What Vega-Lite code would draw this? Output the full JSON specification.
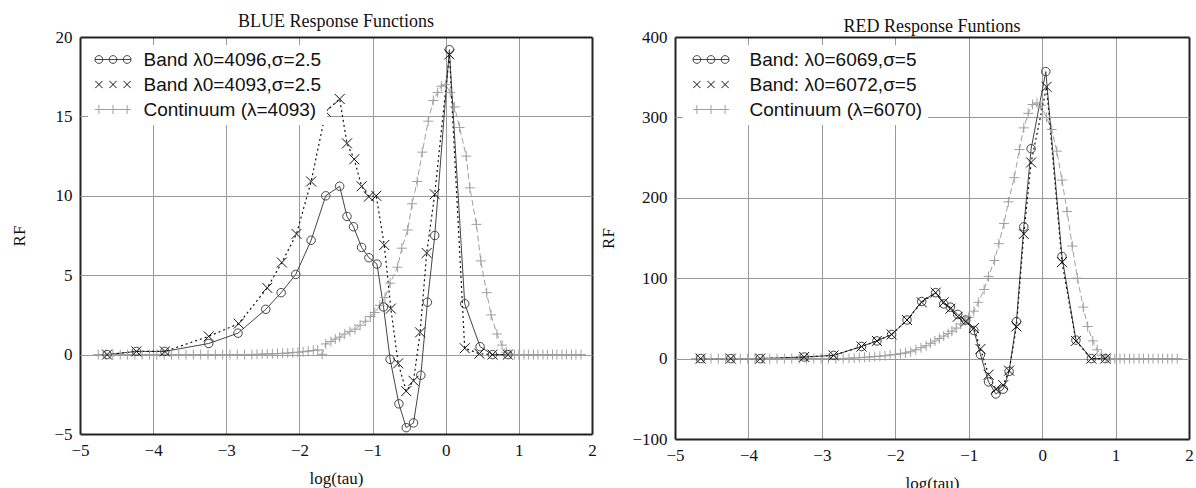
{
  "$schema": "https://vega.github.io/schema/vega-lite/v6.json",
  "background": "white",
  "padding": {"left": 10, "top": 13, "right": 0, "bottom": 0},
  "spacing": 2,
  "resolve": {"scale": {"color": "independent", "shape": "independent", "x": "independent", "y": "independent"}, "legend": {"color": "independent", "shape": "independent"}},
  "config": {
    "view": {"stroke": null},
    "title": {"font": "Liberation Serif", "fontSize": 18, "fontWeight": "normal", "color": "#111"},
    "axis": {
      "domain": false, "ticks": false, "grid": true, "labelFlush": false, "format": "d",
      "labelFont": "Liberation Serif", "labelFontSize": 17, "labelColor": "#111", "labelPadding": 8,
      "titleFont": "Liberation Serif", "titleFontSize": 17, "titleFontWeight": "normal", "titleColor": "#111"
    },
    "legend": {
      "orient": "top-left", "offset": 8, "padding": 5, "rowPadding": 5,
      "fillColor": "white", "labelFont": "Liberation Sans", "labelFontSize": 19, "labelColor": "#111",
      "symbolSize": 144, "symbolStrokeWidth": 1, "labelLimit": 400
    }
  },
  "datasets": {
    "blue": [
      {"x": -4.63, "y": 0, "s": "Band λ0=4096,σ=2.5"},
      {"x": -4.23, "y": 0.2, "s": "Band λ0=4096,σ=2.5"},
      {"x": -3.84, "y": 0.2, "s": "Band λ0=4096,σ=2.5"},
      {"x": -3.24, "y": 0.7, "s": "Band λ0=4096,σ=2.5"},
      {"x": -2.84, "y": 1.35, "s": "Band λ0=4096,σ=2.5"},
      {"x": -2.46, "y": 2.85, "s": "Band λ0=4096,σ=2.5"},
      {"x": -2.25, "y": 3.9, "s": "Band λ0=4096,σ=2.5"},
      {"x": -2.05, "y": 5.05, "s": "Band λ0=4096,σ=2.5"},
      {"x": -1.84, "y": 7.2, "s": "Band λ0=4096,σ=2.5"},
      {"x": -1.64, "y": 10.0, "s": "Band λ0=4096,σ=2.5"},
      {"x": -1.45, "y": 10.6, "s": "Band λ0=4096,σ=2.5"},
      {"x": -1.35, "y": 8.7, "s": "Band λ0=4096,σ=2.5"},
      {"x": -1.26, "y": 8.05, "s": "Band λ0=4096,σ=2.5"},
      {"x": -1.15, "y": 6.75, "s": "Band λ0=4096,σ=2.5"},
      {"x": -1.05, "y": 6.1, "s": "Band λ0=4096,σ=2.5"},
      {"x": -0.94, "y": 5.7, "s": "Band λ0=4096,σ=2.5"},
      {"x": -0.85, "y": 3.0, "s": "Band λ0=4096,σ=2.5"},
      {"x": -0.76, "y": -0.3, "s": "Band λ0=4096,σ=2.5"},
      {"x": -0.64, "y": -3.1, "s": "Band λ0=4096,σ=2.5"},
      {"x": -0.54, "y": -4.6, "s": "Band λ0=4096,σ=2.5"},
      {"x": -0.44, "y": -4.3, "s": "Band λ0=4096,σ=2.5"},
      {"x": -0.34, "y": -1.3, "s": "Band λ0=4096,σ=2.5"},
      {"x": -0.25, "y": 3.3, "s": "Band λ0=4096,σ=2.5"},
      {"x": -0.15, "y": 7.5, "s": "Band λ0=4096,σ=2.5"},
      {"x": 0.05, "y": 19.2, "s": "Band λ0=4096,σ=2.5"},
      {"x": 0.26, "y": 3.2, "s": "Band λ0=4096,σ=2.5"},
      {"x": 0.47, "y": 0.5, "s": "Band λ0=4096,σ=2.5"},
      {"x": 0.64, "y": 0, "s": "Band λ0=4096,σ=2.5"},
      {"x": 0.85, "y": 0, "s": "Band λ0=4096,σ=2.5"},

      {"x": -4.63, "y": 0, "s": "Band λ0=4093,σ=2.5"},
      {"x": -4.23, "y": 0.2, "s": "Band λ0=4093,σ=2.5"},
      {"x": -3.84, "y": 0.2, "s": "Band λ0=4093,σ=2.5"},
      {"x": -3.24, "y": 1.15, "s": "Band λ0=4093,σ=2.5"},
      {"x": -2.83, "y": 1.95, "s": "Band λ0=4093,σ=2.5"},
      {"x": -2.44, "y": 4.2, "s": "Band λ0=4093,σ=2.5"},
      {"x": -2.24, "y": 5.8, "s": "Band λ0=4093,σ=2.5"},
      {"x": -2.04, "y": 7.6, "s": "Band λ0=4093,σ=2.5"},
      {"x": -1.84, "y": 10.9, "s": "Band λ0=4093,σ=2.5"},
      {"x": -1.64, "y": 15.3, "s": "Band λ0=4093,σ=2.5"},
      {"x": -1.45, "y": 16.1, "s": "Band λ0=4093,σ=2.5"},
      {"x": -1.35, "y": 13.3, "s": "Band λ0=4093,σ=2.5"},
      {"x": -1.25, "y": 12.3, "s": "Band λ0=4093,σ=2.5"},
      {"x": -1.15, "y": 10.6, "s": "Band λ0=4093,σ=2.5"},
      {"x": -1.05, "y": 9.95, "s": "Band λ0=4093,σ=2.5"},
      {"x": -0.95, "y": 10.0, "s": "Band λ0=4093,σ=2.5"},
      {"x": -0.84, "y": 6.9, "s": "Band λ0=4093,σ=2.5"},
      {"x": -0.75, "y": 2.9, "s": "Band λ0=4093,σ=2.5"},
      {"x": -0.65, "y": -0.55, "s": "Band λ0=4093,σ=2.5"},
      {"x": -0.54, "y": -2.3, "s": "Band λ0=4093,σ=2.5"},
      {"x": -0.44, "y": -1.65, "s": "Band λ0=4093,σ=2.5"},
      {"x": -0.35, "y": 1.4, "s": "Band λ0=4093,σ=2.5"},
      {"x": -0.26, "y": 6.4, "s": "Band λ0=4093,σ=2.5"},
      {"x": -0.15, "y": 10.1, "s": "Band λ0=4093,σ=2.5"},
      {"x": 0.05, "y": 18.9, "s": "Band λ0=4093,σ=2.5"},
      {"x": 0.26, "y": 0.4, "s": "Band λ0=4093,σ=2.5"},
      {"x": 0.46, "y": 0.06, "s": "Band λ0=4093,σ=2.5"},
      {"x": 0.64, "y": 0, "s": "Band λ0=4093,σ=2.5"},
      {"x": 0.85, "y": 0, "s": "Band λ0=4093,σ=2.5"},

      {"x": -4.75, "y": 0, "s": "Continuum (λ=4093)"},
      {"x": -4.65, "y": 0, "s": "Continuum (λ=4093)"},
      {"x": -4.55, "y": 0, "s": "Continuum (λ=4093)"},
      {"x": -4.45, "y": 0, "s": "Continuum (λ=4093)"},
      {"x": -4.35, "y": 0, "s": "Continuum (λ=4093)"},
      {"x": -4.25, "y": 0, "s": "Continuum (λ=4093)"},
      {"x": -4.15, "y": 0, "s": "Continuum (λ=4093)"},
      {"x": -4.05, "y": 0, "s": "Continuum (λ=4093)"},
      {"x": -3.95, "y": 0, "s": "Continuum (λ=4093)"},
      {"x": -3.85, "y": 0, "s": "Continuum (λ=4093)"},
      {"x": -3.75, "y": 0, "s": "Continuum (λ=4093)"},
      {"x": -3.65, "y": 0, "s": "Continuum (λ=4093)"},
      {"x": -3.55, "y": 0, "s": "Continuum (λ=4093)"},
      {"x": -3.45, "y": 0, "s": "Continuum (λ=4093)"},
      {"x": -3.35, "y": 0, "s": "Continuum (λ=4093)"},
      {"x": -3.25, "y": 0, "s": "Continuum (λ=4093)"},
      {"x": -3.15, "y": 0, "s": "Continuum (λ=4093)"},
      {"x": -3.05, "y": 0, "s": "Continuum (λ=4093)"},
      {"x": -2.95, "y": 0, "s": "Continuum (λ=4093)"},
      {"x": -2.85, "y": 0, "s": "Continuum (λ=4093)"},
      {"x": -2.75, "y": 0, "s": "Continuum (λ=4093)"},
      {"x": -2.65, "y": 0, "s": "Continuum (λ=4093)"},
      {"x": -2.58, "y": 0.02, "s": "Continuum (λ=4093)"},
      {"x": -2.51, "y": 0.03, "s": "Continuum (λ=4093)"},
      {"x": -2.44, "y": 0.04, "s": "Continuum (λ=4093)"},
      {"x": -2.37, "y": 0.05, "s": "Continuum (λ=4093)"},
      {"x": -2.30, "y": 0.06, "s": "Continuum (λ=4093)"},
      {"x": -2.23, "y": 0.08, "s": "Continuum (λ=4093)"},
      {"x": -2.16, "y": 0.1, "s": "Continuum (λ=4093)"},
      {"x": -2.09, "y": 0.12, "s": "Continuum (λ=4093)"},
      {"x": -2.02, "y": 0.15, "s": "Continuum (λ=4093)"},
      {"x": -1.95, "y": 0.18, "s": "Continuum (λ=4093)"},
      {"x": -1.88, "y": 0.22, "s": "Continuum (λ=4093)"},
      {"x": -1.81, "y": 0.26, "s": "Continuum (λ=4093)"},
      {"x": -1.75, "y": 0.3, "s": "Continuum (λ=4093)"},
      {"x": -1.69, "y": 0.02, "s": "Continuum (λ=4093)"},
      {"x": -1.64, "y": 0.67, "s": "Continuum (λ=4093)"},
      {"x": -1.57, "y": 0.82, "s": "Continuum (λ=4093)"},
      {"x": -1.51, "y": 0.98, "s": "Continuum (λ=4093)"},
      {"x": -1.45, "y": 1.1, "s": "Continuum (λ=4093)"},
      {"x": -1.38, "y": 1.3, "s": "Continuum (λ=4093)"},
      {"x": -1.31, "y": 1.45, "s": "Continuum (λ=4093)"},
      {"x": -1.24, "y": 1.6, "s": "Continuum (λ=4093)"},
      {"x": -1.17, "y": 1.85, "s": "Continuum (λ=4093)"},
      {"x": -1.10, "y": 2.1, "s": "Continuum (λ=4093)"},
      {"x": -1.03, "y": 2.4, "s": "Continuum (λ=4093)"},
      {"x": -0.97, "y": 2.65, "s": "Continuum (λ=4093)"},
      {"x": -0.90, "y": 3.1, "s": "Continuum (λ=4093)"},
      {"x": -0.83, "y": 3.6, "s": "Continuum (λ=4093)"},
      {"x": -0.76, "y": 4.5, "s": "Continuum (λ=4093)"},
      {"x": -0.66, "y": 5.5, "s": "Continuum (λ=4093)"},
      {"x": -0.60, "y": 6.7, "s": "Continuum (λ=4093)"},
      {"x": -0.52, "y": 7.85, "s": "Continuum (λ=4093)"},
      {"x": -0.46, "y": 9.5, "s": "Continuum (λ=4093)"},
      {"x": -0.39, "y": 10.9, "s": "Continuum (λ=4093)"},
      {"x": -0.32, "y": 12.75, "s": "Continuum (λ=4093)"},
      {"x": -0.24, "y": 14.7, "s": "Continuum (λ=4093)"},
      {"x": -0.17, "y": 16.0, "s": "Continuum (λ=4093)"},
      {"x": -0.11, "y": 16.5, "s": "Continuum (λ=4093)"},
      {"x": -0.06, "y": 16.9, "s": "Continuum (λ=4093)"},
      {"x": 0.0, "y": 17.0, "s": "Continuum (λ=4093)"},
      {"x": 0.06, "y": 16.5, "s": "Continuum (λ=4093)"},
      {"x": 0.12, "y": 15.6, "s": "Continuum (λ=4093)"},
      {"x": 0.19, "y": 14.3, "s": "Continuum (λ=4093)"},
      {"x": 0.28, "y": 12.5, "s": "Continuum (λ=4093)"},
      {"x": 0.33, "y": 10.5, "s": "Continuum (λ=4093)"},
      {"x": 0.42, "y": 8.2, "s": "Continuum (λ=4093)"},
      {"x": 0.48, "y": 5.9, "s": "Continuum (λ=4093)"},
      {"x": 0.56, "y": 3.9, "s": "Continuum (λ=4093)"},
      {"x": 0.62, "y": 2.5, "s": "Continuum (λ=4093)"},
      {"x": 0.70, "y": 1.3, "s": "Continuum (λ=4093)"},
      {"x": 0.77, "y": 0.6, "s": "Continuum (λ=4093)"},
      {"x": 0.83, "y": 0.15, "s": "Continuum (λ=4093)"},
      {"x": 0.88, "y": 0.02, "s": "Continuum (λ=4093)"},
      {"x": 0.94, "y": 0, "s": "Continuum (λ=4093)"},
      {"x": 1.00, "y": 0, "s": "Continuum (λ=4093)"},
      {"x": 1.07, "y": 0, "s": "Continuum (λ=4093)"},
      {"x": 1.13, "y": 0, "s": "Continuum (λ=4093)"},
      {"x": 1.20, "y": 0, "s": "Continuum (λ=4093)"},
      {"x": 1.26, "y": 0, "s": "Continuum (λ=4093)"},
      {"x": 1.33, "y": 0, "s": "Continuum (λ=4093)"},
      {"x": 1.39, "y": 0, "s": "Continuum (λ=4093)"},
      {"x": 1.46, "y": 0, "s": "Continuum (λ=4093)"},
      {"x": 1.52, "y": 0, "s": "Continuum (λ=4093)"},
      {"x": 1.59, "y": 0, "s": "Continuum (λ=4093)"},
      {"x": 1.65, "y": 0, "s": "Continuum (λ=4093)"},
      {"x": 1.72, "y": 0, "s": "Continuum (λ=4093)"},
      {"x": 1.78, "y": 0, "s": "Continuum (λ=4093)"},
      {"x": 1.85, "y": 0, "s": "Continuum (λ=4093)"}
    ],
    "red": [
      {"x": -4.65, "y": 0, "s": "Band: λ0=6069,σ=5"},
      {"x": -4.24, "y": 0, "s": "Band: λ0=6069,σ=5"},
      {"x": -3.84, "y": 0, "s": "Band: λ0=6069,σ=5"},
      {"x": -3.24, "y": 2, "s": "Band: λ0=6069,σ=5"},
      {"x": -2.84, "y": 4, "s": "Band: λ0=6069,σ=5"},
      {"x": -2.46, "y": 15, "s": "Band: λ0=6069,σ=5"},
      {"x": -2.25, "y": 22, "s": "Band: λ0=6069,σ=5"},
      {"x": -2.05, "y": 30, "s": "Band: λ0=6069,σ=5"},
      {"x": -1.84, "y": 48, "s": "Band: λ0=6069,σ=5"},
      {"x": -1.64, "y": 71, "s": "Band: λ0=6069,σ=5"},
      {"x": -1.45, "y": 82, "s": "Band: λ0=6069,σ=5"},
      {"x": -1.34, "y": 68, "s": "Band: λ0=6069,σ=5"},
      {"x": -1.25, "y": 64, "s": "Band: λ0=6069,σ=5"},
      {"x": -1.15, "y": 55, "s": "Band: λ0=6069,σ=5"},
      {"x": -1.04, "y": 48, "s": "Band: λ0=6069,σ=5"},
      {"x": -0.93, "y": 35, "s": "Band: λ0=6069,σ=5"},
      {"x": -0.84, "y": 5, "s": "Band: λ0=6069,σ=5"},
      {"x": -0.73, "y": -29, "s": "Band: λ0=6069,σ=5"},
      {"x": -0.63, "y": -44, "s": "Band: λ0=6069,σ=5"},
      {"x": -0.53, "y": -38, "s": "Band: λ0=6069,σ=5"},
      {"x": -0.45, "y": -16, "s": "Band: λ0=6069,σ=5"},
      {"x": -0.35, "y": 46, "s": "Band: λ0=6069,σ=5"},
      {"x": -0.25, "y": 164, "s": "Band: λ0=6069,σ=5"},
      {"x": -0.15, "y": 261, "s": "Band: λ0=6069,σ=5"},
      {"x": 0.05, "y": 357, "s": "Band: λ0=6069,σ=5"},
      {"x": 0.27, "y": 127, "s": "Band: λ0=6069,σ=5"},
      {"x": 0.46, "y": 23, "s": "Band: λ0=6069,σ=5"},
      {"x": 0.67, "y": 0, "s": "Band: λ0=6069,σ=5"},
      {"x": 0.86, "y": 0, "s": "Band: λ0=6069,σ=5"},

      {"x": -4.65, "y": 0, "s": "Band: λ0=6072,σ=5"},
      {"x": -4.24, "y": 0, "s": "Band: λ0=6072,σ=5"},
      {"x": -3.84, "y": 0, "s": "Band: λ0=6072,σ=5"},
      {"x": -3.24, "y": 2, "s": "Band: λ0=6072,σ=5"},
      {"x": -2.84, "y": 4, "s": "Band: λ0=6072,σ=5"},
      {"x": -2.46, "y": 15, "s": "Band: λ0=6072,σ=5"},
      {"x": -2.25, "y": 22, "s": "Band: λ0=6072,σ=5"},
      {"x": -2.05, "y": 30, "s": "Band: λ0=6072,σ=5"},
      {"x": -1.84, "y": 48, "s": "Band: λ0=6072,σ=5"},
      {"x": -1.64, "y": 70, "s": "Band: λ0=6072,σ=5"},
      {"x": -1.45, "y": 82, "s": "Band: λ0=6072,σ=5"},
      {"x": -1.34, "y": 70, "s": "Band: λ0=6072,σ=5"},
      {"x": -1.25, "y": 62, "s": "Band: λ0=6072,σ=5"},
      {"x": -1.15, "y": 52, "s": "Band: λ0=6072,σ=5"},
      {"x": -1.04, "y": 46, "s": "Band: λ0=6072,σ=5"},
      {"x": -0.93, "y": 38, "s": "Band: λ0=6072,σ=5"},
      {"x": -0.84, "y": 12, "s": "Band: λ0=6072,σ=5"},
      {"x": -0.73, "y": -20, "s": "Band: λ0=6072,σ=5"},
      {"x": -0.63, "y": -38, "s": "Band: λ0=6072,σ=5"},
      {"x": -0.53, "y": -33, "s": "Band: λ0=6072,σ=5"},
      {"x": -0.45, "y": -15, "s": "Band: λ0=6072,σ=5"},
      {"x": -0.35, "y": 40, "s": "Band: λ0=6072,σ=5"},
      {"x": -0.25, "y": 155, "s": "Band: λ0=6072,σ=5"},
      {"x": -0.15, "y": 244, "s": "Band: λ0=6072,σ=5"},
      {"x": 0.06, "y": 338, "s": "Band: λ0=6072,σ=5"},
      {"x": 0.27, "y": 120, "s": "Band: λ0=6072,σ=5"},
      {"x": 0.46, "y": 22, "s": "Band: λ0=6072,σ=5"},
      {"x": 0.67, "y": 0, "s": "Band: λ0=6072,σ=5"},
      {"x": 0.86, "y": 0, "s": "Band: λ0=6072,σ=5"},

      {"x": -4.71, "y": 0, "s": "Continuum (λ=6070)"},
      {"x": -4.61, "y": 0, "s": "Continuum (λ=6070)"},
      {"x": -4.51, "y": 0, "s": "Continuum (λ=6070)"},
      {"x": -4.41, "y": 0, "s": "Continuum (λ=6070)"},
      {"x": -4.31, "y": 0, "s": "Continuum (λ=6070)"},
      {"x": -4.21, "y": 0, "s": "Continuum (λ=6070)"},
      {"x": -4.11, "y": 0, "s": "Continuum (λ=6070)"},
      {"x": -4.01, "y": 0, "s": "Continuum (λ=6070)"},
      {"x": -3.91, "y": 0, "s": "Continuum (λ=6070)"},
      {"x": -3.81, "y": 0, "s": "Continuum (λ=6070)"},
      {"x": -3.71, "y": 0, "s": "Continuum (λ=6070)"},
      {"x": -3.61, "y": 0, "s": "Continuum (λ=6070)"},
      {"x": -3.51, "y": 0, "s": "Continuum (λ=6070)"},
      {"x": -3.41, "y": 0, "s": "Continuum (λ=6070)"},
      {"x": -3.31, "y": 0, "s": "Continuum (λ=6070)"},
      {"x": -3.21, "y": 0, "s": "Continuum (λ=6070)"},
      {"x": -3.11, "y": 0, "s": "Continuum (λ=6070)"},
      {"x": -3.01, "y": 0, "s": "Continuum (λ=6070)"},
      {"x": -2.91, "y": 0, "s": "Continuum (λ=6070)"},
      {"x": -2.81, "y": 0, "s": "Continuum (λ=6070)"},
      {"x": -2.71, "y": 0, "s": "Continuum (λ=6070)"},
      {"x": -2.63, "y": 0.5, "s": "Continuum (λ=6070)"},
      {"x": -2.56, "y": 0.8, "s": "Continuum (λ=6070)"},
      {"x": -2.49, "y": 1.2, "s": "Continuum (λ=6070)"},
      {"x": -2.42, "y": 1.6, "s": "Continuum (λ=6070)"},
      {"x": -2.35, "y": 2.0, "s": "Continuum (λ=6070)"},
      {"x": -2.28, "y": 2.5, "s": "Continuum (λ=6070)"},
      {"x": -2.21, "y": 3.0, "s": "Continuum (λ=6070)"},
      {"x": -2.14, "y": 3.6, "s": "Continuum (λ=6070)"},
      {"x": -2.07, "y": 4.4, "s": "Continuum (λ=6070)"},
      {"x": -2.00, "y": 5.2, "s": "Continuum (λ=6070)"},
      {"x": -1.93, "y": 6.0, "s": "Continuum (λ=6070)"},
      {"x": -1.86, "y": 7.0, "s": "Continuum (λ=6070)"},
      {"x": -1.79, "y": 8.5, "s": "Continuum (λ=6070)"},
      {"x": -1.72, "y": 11, "s": "Continuum (λ=6070)"},
      {"x": -1.65, "y": 13.5, "s": "Continuum (λ=6070)"},
      {"x": -1.58, "y": 16, "s": "Continuum (λ=6070)"},
      {"x": -1.52, "y": 19, "s": "Continuum (λ=6070)"},
      {"x": -1.46, "y": 22, "s": "Continuum (λ=6070)"},
      {"x": -1.40, "y": 25, "s": "Continuum (λ=6070)"},
      {"x": -1.34, "y": 28, "s": "Continuum (λ=6070)"},
      {"x": -1.28, "y": 31, "s": "Continuum (λ=6070)"},
      {"x": -1.23, "y": 34, "s": "Continuum (λ=6070)"},
      {"x": -1.17, "y": 38, "s": "Continuum (λ=6070)"},
      {"x": -1.11, "y": 43, "s": "Continuum (λ=6070)"},
      {"x": -1.05, "y": 47, "s": "Continuum (λ=6070)"},
      {"x": -1.00, "y": 51, "s": "Continuum (λ=6070)"},
      {"x": -0.93, "y": 59, "s": "Continuum (λ=6070)"},
      {"x": -0.87, "y": 70, "s": "Continuum (λ=6070)"},
      {"x": -0.79, "y": 86, "s": "Continuum (λ=6070)"},
      {"x": -0.73, "y": 102, "s": "Continuum (λ=6070)"},
      {"x": -0.65, "y": 122, "s": "Continuum (λ=6070)"},
      {"x": -0.59, "y": 143, "s": "Continuum (λ=6070)"},
      {"x": -0.52, "y": 168, "s": "Continuum (λ=6070)"},
      {"x": -0.46, "y": 195, "s": "Continuum (λ=6070)"},
      {"x": -0.38, "y": 225, "s": "Continuum (λ=6070)"},
      {"x": -0.31, "y": 260, "s": "Continuum (λ=6070)"},
      {"x": -0.25, "y": 287, "s": "Continuum (λ=6070)"},
      {"x": -0.19, "y": 305, "s": "Continuum (λ=6070)"},
      {"x": -0.13, "y": 316, "s": "Continuum (λ=6070)"},
      {"x": -0.07, "y": 318, "s": "Continuum (λ=6070)"},
      {"x": -0.02, "y": 315, "s": "Continuum (λ=6070)"},
      {"x": 0.06, "y": 300, "s": "Continuum (λ=6070)"},
      {"x": 0.13, "y": 285, "s": "Continuum (λ=6070)"},
      {"x": 0.20, "y": 258, "s": "Continuum (λ=6070)"},
      {"x": 0.27, "y": 222, "s": "Continuum (λ=6070)"},
      {"x": 0.34, "y": 183, "s": "Continuum (λ=6070)"},
      {"x": 0.41, "y": 140, "s": "Continuum (λ=6070)"},
      {"x": 0.48, "y": 100, "s": "Continuum (λ=6070)"},
      {"x": 0.56, "y": 64, "s": "Continuum (λ=6070)"},
      {"x": 0.62, "y": 40, "s": "Continuum (λ=6070)"},
      {"x": 0.69, "y": 22, "s": "Continuum (λ=6070)"},
      {"x": 0.75, "y": 11, "s": "Continuum (λ=6070)"},
      {"x": 0.81, "y": 4, "s": "Continuum (λ=6070)"},
      {"x": 0.87, "y": 1, "s": "Continuum (λ=6070)"},
      {"x": 0.93, "y": 0, "s": "Continuum (λ=6070)"},
      {"x": 0.99, "y": 0, "s": "Continuum (λ=6070)"},
      {"x": 1.06, "y": 0, "s": "Continuum (λ=6070)"},
      {"x": 1.12, "y": 0, "s": "Continuum (λ=6070)"},
      {"x": 1.19, "y": 0, "s": "Continuum (λ=6070)"},
      {"x": 1.25, "y": 0, "s": "Continuum (λ=6070)"},
      {"x": 1.32, "y": 0, "s": "Continuum (λ=6070)"},
      {"x": 1.38, "y": 0, "s": "Continuum (λ=6070)"},
      {"x": 1.45, "y": 0, "s": "Continuum (λ=6070)"},
      {"x": 1.51, "y": 0, "s": "Continuum (λ=6070)"},
      {"x": 1.58, "y": 0, "s": "Continuum (λ=6070)"},
      {"x": 1.64, "y": 0, "s": "Continuum (λ=6070)"},
      {"x": 1.71, "y": 0, "s": "Continuum (λ=6070)"},
      {"x": 1.77, "y": 0, "s": "Continuum (λ=6070)"},
      {"x": 1.84, "y": 0, "s": "Continuum (λ=6070)"}
    ]
  },
  "hconcat": [
    {
      "width": 512,
      "height": 397,
      "title": {"text": "BLUE Response Functions", "offset": -3},
      "data": {"name": "blue"},
      "encoding": {
        "x": {"field": "x", "type": "quantitative", "title": "log(tau)",
          "scale": {"domain": [-5, 2], "nice": false, "zero": false},
          "axis": {"values": [-5, -4, -3, -2, -1, 0, 1, 2], "titlePadding": 12,
            "gridColor": {"condition": {"test": "datum.value <= -5 || datum.value >= 2", "value": "#222"}, "value": "#9a9a9a"},
            "gridWidth": {"condition": {"test": "datum.value <= -5 || datum.value >= 2", "value": 2}, "value": 1}}},
        "y": {"field": "y", "type": "quantitative", "title": "RF",
          "scale": {"domain": [-5, 20], "nice": false, "zero": false},
          "axis": {"values": [-5, 0, 5, 10, 15, 20], "titlePadding": 25,
            "gridColor": {"condition": {"test": "datum.value <= -5 || datum.value >= 20", "value": "#222"}, "value": "#9a9a9a"},
            "gridWidth": {"condition": {"test": "datum.value <= -5 || datum.value >= 20", "value": 2}, "value": 1}}}
      },
      "layer": [
        {
          "transform": [{"filter": "datum.s === 'Continuum (λ=4093)'"}],
          "mark": {"type": "line", "strokeWidth": 1, "color": "#a0a0a0", "strokeDash": [6, 3]}
        },
        {
          "transform": [{"filter": "datum.s === 'Band λ0=4096,σ=2.5'"}],
          "mark": {"type": "line", "strokeWidth": 1, "color": "#444444"}
        },
        {
          "transform": [{"filter": "datum.s === 'Band λ0=4093,σ=2.5'"}],
          "mark": {"type": "line", "strokeWidth": 1.2, "color": "#111111", "strokeDash": [2, 3]}
        },
        {
          "transform": [{"filter": "datum.s === 'Continuum (λ=4093)'"}],
          "mark": {"type": "point", "filled": false, "size": 100, "strokeWidth": 1, "opacity": 1, "color": "#a0a0a0", "shape": "M-1,0L1,0M0,-1L0,1"}
        },
        {
          "transform": [{"filter": "datum.s === 'Band λ0=4096,σ=2.5'"}],
          "mark": {"type": "point", "filled": false, "size": 100, "strokeWidth": 1, "opacity": 1, "color": "#444444", "shape": "M0.85,0A0.85,0.85 0 1,1 -0.85,0A0.85,0.85 0 1,1 0.85,0"}
        },
        {
          "transform": [{"filter": "datum.s === 'Band λ0=4093,σ=2.5'"}],
          "mark": {"type": "point", "filled": false, "size": 100, "strokeWidth": 1, "opacity": 1, "color": "#111111", "shape": "M-1,-1L1,1M-1,1L1,-1"}
        },
        {
          "transform": [{"filter": "false"}],
          "mark": {"type": "point", "filled": false, "size": 144, "strokeWidth": 1, "opacity": 1},
          "encoding": {
            "color": {"field": "s", "type": "nominal",
              "scale": {"domain": ["Band λ0=4096,σ=2.5", "Band λ0=4093,σ=2.5", "Continuum (λ=4093)"], "range": ["#444444", "#111111", "#a0a0a0"]},
              "legend": {"title": null, "symbolOffset": 10.5, "labelOffset": 21}},
            "shape": {"field": "s", "type": "nominal",
              "scale": {"domain": ["Band λ0=4096,σ=2.5", "Band λ0=4093,σ=2.5", "Continuum (λ=4093)"],
                "range": [
                  "M-3,0L3,0M-1.7,0A0.65,0.65 0 1,1 -3,0A0.65,0.65 0 1,1 -1.7,0M0.65,0A0.65,0.65 0 1,1 -0.65,0A0.65,0.65 0 1,1 0.65,0M3,0A0.65,0.65 0 1,1 1.7,0A0.65,0.65 0 1,1 3,0",
                  "M-2.95,-0.6L-1.75,0.6M-2.95,0.6L-1.75,-0.6M-0.6,-0.6L0.6,0.6M-0.6,0.6L0.6,-0.6M1.75,-0.6L2.95,0.6M1.75,0.6L2.95,-0.6",
                  "M-3,0L3,0M-2.35,-0.75L-2.35,0.75M0,-0.75L0,0.75M2.35,-0.75L2.35,0.75"]},
              "legend": {"title": null, "symbolOffset": 10.5, "labelOffset": 21}}
          }
        }
      ]
    },
    {
      "width": 514,
      "height": 402,
      "title": {"text": "RED Response Funtions", "offset": -8},
      "data": {"name": "red"},
      "encoding": {
        "x": {"field": "x", "type": "quantitative", "title": "log(tau)",
          "scale": {"domain": [-5, 2], "nice": false, "zero": false},
          "axis": {"values": [-5, -4, -3, -2, -1, 0, 1, 2], "titlePadding": 12,
            "gridColor": {"condition": {"test": "datum.value <= -5 || datum.value >= 2", "value": "#222"}, "value": "#9a9a9a"},
            "gridWidth": {"condition": {"test": "datum.value <= -5 || datum.value >= 2", "value": 2}, "value": 1}}},
        "y": {"field": "y", "type": "quantitative", "title": "RF",
          "scale": {"domain": [-100, 400], "nice": false, "zero": false},
          "axis": {"values": [-100, 0, 100, 200, 300, 400], "titlePadding": 14,
            "gridColor": {"condition": {"test": "datum.value <= -100 || datum.value >= 400", "value": "#222"}, "value": "#9a9a9a"},
            "gridWidth": {"condition": {"test": "datum.value <= -100 || datum.value >= 400", "value": 2}, "value": 1}}}
      },
      "layer": [
        {
          "transform": [{"filter": "datum.s === 'Continuum (λ=6070)'"}],
          "mark": {"type": "line", "strokeWidth": 1, "color": "#a0a0a0", "strokeDash": [6, 3]}
        },
        {
          "transform": [{"filter": "datum.s === 'Band: λ0=6069,σ=5'"}],
          "mark": {"type": "line", "strokeWidth": 1, "color": "#444444"}
        },
        {
          "transform": [{"filter": "datum.s === 'Band: λ0=6072,σ=5'"}],
          "mark": {"type": "line", "strokeWidth": 1.2, "color": "#111111", "strokeDash": [2, 3]}
        },
        {
          "transform": [{"filter": "datum.s === 'Continuum (λ=6070)'"}],
          "mark": {"type": "point", "filled": false, "size": 100, "strokeWidth": 1, "opacity": 1, "color": "#a0a0a0", "shape": "M-1,0L1,0M0,-1L0,1"}
        },
        {
          "transform": [{"filter": "datum.s === 'Band: λ0=6069,σ=5'"}],
          "mark": {"type": "point", "filled": false, "size": 100, "strokeWidth": 1, "opacity": 1, "color": "#444444", "shape": "M0.85,0A0.85,0.85 0 1,1 -0.85,0A0.85,0.85 0 1,1 0.85,0"}
        },
        {
          "transform": [{"filter": "datum.s === 'Band: λ0=6072,σ=5'"}],
          "mark": {"type": "point", "filled": false, "size": 100, "strokeWidth": 1, "opacity": 1, "color": "#111111", "shape": "M-1,-1L1,1M-1,1L1,-1"}
        },
        {
          "transform": [{"filter": "false"}],
          "mark": {"type": "point", "filled": false, "size": 144, "strokeWidth": 1, "opacity": 1},
          "encoding": {
            "color": {"field": "s", "type": "nominal",
              "scale": {"domain": ["Band: λ0=6069,σ=5", "Band: λ0=6072,σ=5", "Continuum (λ=6070)"], "range": ["#444444", "#111111", "#a0a0a0"]},
              "legend": {"title": null, "symbolOffset": 13.5, "labelOffset": 29}},
            "shape": {"field": "s", "type": "nominal",
              "scale": {"domain": ["Band: λ0=6069,σ=5", "Band: λ0=6072,σ=5", "Continuum (λ=6070)"],
                "range": [
                  "M-3,0L3,0M-1.7,0A0.65,0.65 0 1,1 -3,0A0.65,0.65 0 1,1 -1.7,0M0.65,0A0.65,0.65 0 1,1 -0.65,0A0.65,0.65 0 1,1 0.65,0M3,0A0.65,0.65 0 1,1 1.7,0A0.65,0.65 0 1,1 3,0",
                  "M-2.95,-0.6L-1.75,0.6M-2.95,0.6L-1.75,-0.6M-0.6,-0.6L0.6,0.6M-0.6,0.6L0.6,-0.6M1.75,-0.6L2.95,0.6M1.75,0.6L2.95,-0.6",
                  "M-3,0L3,0M-2.35,-0.75L-2.35,0.75M0,-0.75L0,0.75M2.35,-0.75L2.35,0.75"]},
              "legend": {"title": null, "symbolOffset": 13.5, "labelOffset": 29}}
          }
        }
      ]
    }
  ]
}
